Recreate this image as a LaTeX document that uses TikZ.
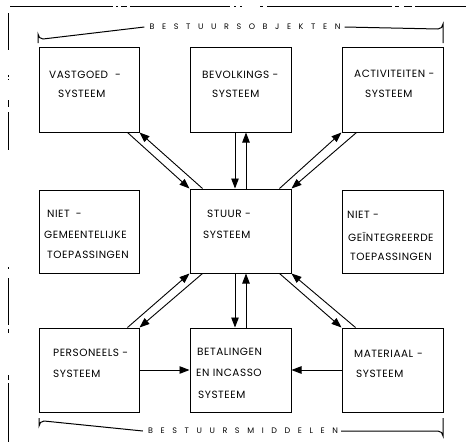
\documentclass[tikz,border=0pt]{standalone}
\usepackage{fontspec}
\setmainfont{Poppins}
\newfontfamily\boxfont[LetterSpace=5]{Poppins}
\newfontfamily\labfont[LetterSpace=95]{Poppins}
\usetikzlibrary{arrows.meta,calc}
\begin{document}
\begin{tikzpicture}[x=1pt,y=-1pt,
  sysbox/.style={draw,line width=1pt,minimum width=100pt,minimum height=84pt,inner sep=0pt},
  txt/.style={anchor=west,inner sep=0pt,font=\boxfont\fontsize{10.5}{11}\selectfont},
  lab/.style={inner sep=0pt,font=\labfont\fontsize{8}{9}\selectfont},
  conn/.style={line width=0.9pt,-{Triangle[length=10pt,width=7.5pt]}},
  brace/.style={line width=1pt},
  rim/.style={line width=0.8pt}]
\useasboundingbox (0,0) rectangle (466,445);
% boxes
\node[sysbox,minimum height=85pt] (vast) at (89,89.5) {};
\node[sysbox,minimum width=101pt,minimum height=85pt] (bev) at (240.5,89.5) {};
\node[sysbox,minimum width=101pt,minimum height=85pt] (act) at (392.5,89.5) {};
\node[sysbox,minimum height=83pt] (niet1) at (89,231.5) {};
\node[sysbox,minimum width=101pt] (stuur) at (240.5,231) {};
\node[sysbox,minimum width=101pt,minimum height=83pt] (niet2) at (392.5,231.5) {};
\node[sysbox] (pers) at (89,370) {};
\node[sysbox,minimum width=101pt] (bet) at (240.5,370) {};
\node[sysbox,minimum width=101pt] (mat) at (392.5,370) {};
% texts
\node[txt] (t1) at (49,75) {VASTGOED\hspace{7pt}-};
\node[txt] (t2) at (58,94) {SYSTEEM};
\node[txt] (t3) at (202,75) {BEVOLKINGS -};
\node[txt] (t4) at (212,94) {SYSTEEM};
\node[txt] (t5) at (354,74) {ACTIVITEITEN -};
\node[txt] (t6) at (365,94) {SYSTEEM};
\node[txt] (t7) at (47,214) {NIET\hspace{6pt}-};
\node[txt] (t8) at (44,235) {GEMEENTELIJKE};
\node[txt] (t9) at (47,255) {TOEPASSINGEN};
\node[txt] (t10) at (207,214) {STUUR -};
\node[txt] (t11) at (203,235) {SYSTEEM};
\node[txt] (t12) at (347,215) {NIET -};
\node[txt] (t13) at (348,237) {GEÏNTEGREERDE};
\node[txt] (t14) at (350,257) {TOEPASSINGEN};
\node[txt] (t15) at (53,353) {PERSONEELS -};
\node[txt] (t16) at (53,374) {SYSTEEM};
\node[txt] (t17) at (197,352) {BETALINGEN};
\node[txt] (t18) at (196,373) {EN INCASSO};
\node[txt] (t19) at (198,395) {SYSTEEM};
\node[txt] (t20) at (354,354) {MATERIAAL\hspace{4pt}-};
\node[txt] (t21) at (356,374) {SYSTEEM};
% group labels
\node[lab] (top) at (245,27) {BESTUURSOBJEKTEN};
\node[lab] (bot) at (243,431) {BESTUURSMIDDELEN};
\draw[brace] (38,43) -- (38,34) arc[start angle=180,end angle=90,radius=5] -- ($(top.west)+(-5,0)$);
\draw[brace] ($(top.east)+(4,0)$) -- (438,29) arc[start angle=90,end angle=0,radius=5] -- (443,43);
\draw[brace] (39,418) -- (39,426) arc[start angle=180,end angle=270,radius=5] -- ($(bot.west)+(-5,0)$);
\draw[brace] ($(bot.east)+(3,0)$) -- (438,431) arc[start angle=270,end angle=360,radius=5] -- (443,418);
% connectors
\draw[conn] ($(vast.south east)+(-12,0)$) -- (stuur.north west);
\draw[conn] ($(stuur.north west)+(13,0)$) -- (vast.south east);
\draw[conn] ($(bev.south)+(-5.5,0)$) -- ($(stuur.north)+(-5.5,0)$);
\draw[conn] ($(stuur.north)+(5.5,0)$) -- ($(bev.south)+(5.5,0)$);
\draw[conn] ($(stuur.north east)+(-12,0)$) -- (act.south west);
\draw[conn] ($(act.south west)+(15,0)$) -- (stuur.north east);
\draw[conn] ($(pers.north east)+(-12,0)$) -- (stuur.south west);
\draw[conn] ($(stuur.south west)+(13,0)$) -- (pers.north east);
\draw[conn] ($(stuur.south)+(-5.5,0)$) -- ($(bet.north)+(-5.5,0)$);
\draw[conn] ($(bet.north)+(5.5,0)$) -- ($(stuur.south)+(5.5,0)$);
\draw[conn] ($(stuur.south east)+(-12,0)$) -- (mat.north west);
\draw[conn] ($(mat.north west)+(14,0)$) -- (stuur.south east);
\draw[conn] (pers.east) -- (bet.west);
\draw[conn] (mat.west) -- (bet.east);
% page rim
\draw[rim] (10,6) -- (113,6) (116,6) -- (118,6) (121,6) -- (127,6) (130,6) -- (230,6)
  (234,6) -- (236,6) (240,6) -- (242,6) (260,6) -- (263,6) (267,6) -- (392,6)
  (395,6) -- (399,6) (404,6) -- (412,6) (415,6) -- (466,6);
\draw[rim] (8,13) -- (8,50) (8,75) -- (8,76.5) (8,78.5) -- (8,80) (8,100) -- (8,107)
  (8,112) -- (8,150) (8,267) -- (8,268.5) (8,278) -- (8,325) (8,329) -- (8,333)
  (8,375) -- (8,380) (8,383) -- (8,442);
\end{tikzpicture}
\end{document}
